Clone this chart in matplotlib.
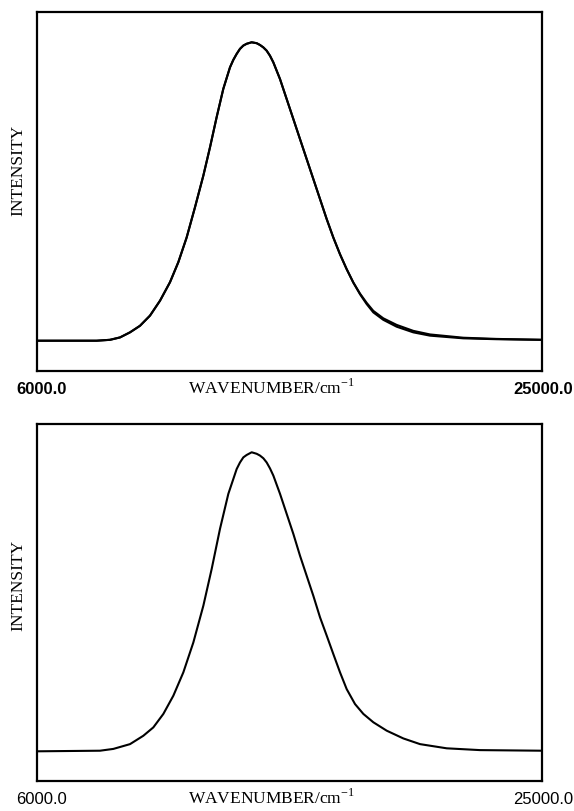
import matplotlib
matplotlib.use("Agg")
import matplotlib.pyplot as plt

# ---- data ----
x_label = "WAVENUMBER/cm"
y_label = "INTENSITY"
x_min_label = "6000.0"
x_max_label = "25000.0"
x_range = [6000.0, 25000.0]

top_wn = [6000, 8256, 8758, 9134, 9510, 9886, 10262, 10639, 11015, 11328, 11642,
          11955, 12269, 12520, 12770, 13021, 13272, 13397, 13523, 13648, 13774, 13899,
          14087, 14275, 14401, 14526, 14651, 14777, 14902, 15153, 15404, 15655, 15905,
          16156, 16407, 16658, 16909, 17159, 17410, 17661, 17912, 18163, 18413, 18664,
          19040, 19542, 20169, 20796, 22050, 23304, 25000]
top_obs = [0.000, 0.000, 0.003, 0.011, 0.028, 0.050, 0.084, 0.134, 0.196, 0.263, 0.346,
           0.447, 0.553, 0.648, 0.749, 0.844, 0.916, 0.941, 0.961, 0.978, 0.989, 0.995,
           1.000, 0.997, 0.991, 0.983, 0.972, 0.955, 0.933, 0.877, 0.810, 0.743, 0.676,
           0.609, 0.542, 0.475, 0.408, 0.346, 0.290, 0.240, 0.195, 0.156, 0.123, 0.095,
           0.070, 0.047, 0.028, 0.017, 0.008, 0.005, 0.003]
top_fit = [0.000, 0.000, 0.003, 0.011, 0.028, 0.050, 0.084, 0.134, 0.196, 0.263, 0.346,
           0.447, 0.553, 0.648, 0.749, 0.844, 0.916, 0.941, 0.961, 0.978, 0.989, 0.995,
           1.000, 0.997, 0.991, 0.983, 0.972, 0.955, 0.933, 0.877, 0.810, 0.743, 0.676,
           0.609, 0.542, 0.475, 0.408, 0.346, 0.290, 0.240, 0.195, 0.158, 0.127, 0.100,
           0.075, 0.053, 0.033, 0.021, 0.010, 0.006, 0.003]

bot_wn = [6000, 8362, 8864, 9492, 9994, 10371, 10748, 11125, 11501, 11878, 12255,
          12569, 12882, 13196, 13510, 13635, 13761, 13886, 14075, 14264, 14389, 14515,
          14640, 14766, 14892, 15143, 15394, 15645, 15896, 16147, 16398, 16650, 16901,
          17152, 17403, 17654, 17968, 18282, 18659, 19161, 19789, 20417, 21421, 22677,
          25000]
bot_obs = [0.000, 0.002, 0.008, 0.024, 0.052, 0.080, 0.125, 0.186, 0.264, 0.364, 0.487,
           0.610, 0.744, 0.861, 0.944, 0.966, 0.983, 0.991, 1.000, 0.995, 0.989, 0.980,
           0.966, 0.946, 0.922, 0.861, 0.794, 0.727, 0.654, 0.587, 0.520, 0.448, 0.387,
           0.325, 0.264, 0.208, 0.158, 0.125, 0.097, 0.069, 0.043, 0.024, 0.010, 0.004,
           0.002]

W, H = 574, 812
fig = plt.figure(figsize=(W / 100, H / 100), dpi=100)

serif = ["Liberation Serif", "DejaVu Serif"]
sans = ["Liberation Sans", "DejaVu Sans"]


def fb(px_left, px_top, px_right, px_bottom):
    return [px_left / W, 1 - px_bottom / H, (px_right - px_left) / W, (px_bottom - px_top) / H]


panels = [
    dict(rect=fb(36.7, 13.3, 541.7, 371.7), ylim=(-0.1005, 1.1005),
         series=[(top_wn, top_obs), (top_wn, top_fit)], label_y=390, ylab_y=170,
         weight="bold"),
    dict(rect=fb(37.3, 425.0, 541.7, 781.7), ylim=(-0.0983, 1.0946),
         series=[(bot_wn, bot_obs)], label_y=800, ylab_y=585, weight="normal"),
]

for p in panels:
    ax = fig.add_axes(p["rect"])
    for xs, ys in p["series"]:
        ax.plot(xs, ys, color="black", lw=1.5, solid_joinstyle="round",
                solid_capstyle="round")
    ax.set_xlim(*x_range)
    ax.set_ylim(*p["ylim"])
    ax.set_xticks([])
    ax.set_yticks([])
    for s in ax.spines.values():
        s.set_linewidth(1.6)
        s.set_color("black")
    ly = 1 - p["label_y"] / H
    fig.text(16 / W, ly, x_min_label, ha="left", va="center", fontsize=12,
             family=sans, fontweight=p["weight"])
    fig.text(573 / W, ly, x_max_label, ha="right", va="center", fontsize=12,
             family=sans, fontweight=p["weight"])
    fig.text(271 / W, ly + 0.002, x_label + r"$^{\mathregular{-1}}$", ha="center",
             va="center", fontsize=12.5, family=serif)
    fig.text(18 / W, 1 - p["ylab_y"] / H, y_label, ha="center", va="center",
             rotation=90, fontsize=12.5, family=serif)

fig.savefig("out.png", dpi=100, facecolor="white")
